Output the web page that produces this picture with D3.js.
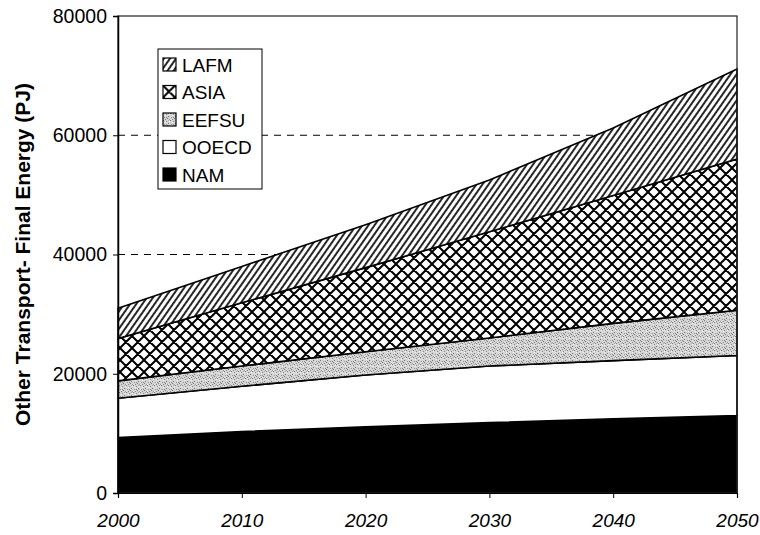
<!DOCTYPE html>
<html>
<head>
<meta charset="utf-8">
<script src="https://cdn.jsdelivr.net/npm/d3@7"></script>
<style>
  body { margin: 0; background: #fff; }
  svg { display: block; font-family: "Liberation Sans", Arial, sans-serif; }
</style>
</head>
<body>
<div class="container"></div>
<script>
const w = 760, h = 535;
const margin = { top: 16, right: 23, bottom: 42, left: 118 };

// data (PJ)
const years = [2000, 2010, 2020, 2030, 2040, 2050];
const seriesNames = ["NAM", "OOECD", "EEFSU", "ASIA", "LAFM"];
const NAM   = [9300, 10300, 11100, 11800, 12450, 13000];
const OOECD = [6600, 7600, 8700, 9500, 9750, 10050];
const EEFSU = [2900, 3400, 3900, 4700, 6250, 7600];
const ASIA  = [7100, 10600, 14100, 17800, 21450, 25350];
const LAFM  = [5100, 6100, 7200, 8700, 11300, 15100];
const yTicks = [0, 20000, 40000, 60000, 80000];
const xTicks = [2000, 2010, 2020, 2030, 2040, 2050];
const legendOrder = ["LAFM", "ASIA", "EEFSU", "OOECD", "NAM"];

const values = { NAM, OOECD, EEFSU, ASIA, LAFM };
const rows = years.map((yr, i) => {
  const r = { year: yr };
  seriesNames.forEach(s => r[s] = values[s][i]);
  return r;
});

const x = d3.scaleLinear().domain([2000, 2050]).range([margin.left, w - margin.right]);
const y = d3.scaleLinear().domain([0, 80000]).range([h - margin.bottom, margin.top]);

const svg = d3.select(".container").append("svg")
  .attr("width", w).attr("height", h)
  .attr("viewBox", [0, 0, w, h]);

const defs = svg.append("defs");

// LAFM: upward diagonal hatch
const pL = defs.append("pattern").attr("id", "pLAFM")
  .attr("patternUnits", "userSpaceOnUse").attr("width", 5).attr("height", 10)
  .attr("patternTransform", "rotate(35)");
pL.append("rect").attr("width", 5).attr("height", 10).attr("fill", "#fff");
pL.append("line").attr("x1", 1).attr("x2", 1).attr("y1", 0).attr("y2", 10)
  .attr("stroke", "#000").attr("stroke-width", 1.7);

// ASIA: diagonal crosshatch
const pA = defs.append("pattern").attr("id", "pASIA")
  .attr("patternUnits", "userSpaceOnUse").attr("width", 12).attr("height", 12);
pA.append("rect").attr("width", 12).attr("height", 12).attr("fill", "#fff");
pA.append("path").attr("d", "M0,0L12,12M12,0L0,12M-1,11L1,13M11,-1L13,1M-1,1L1,-1M11,13L13,11")
  .attr("stroke", "#000").attr("stroke-width", 2);

// EEFSU: grey stipple (scattered dots)
const pE = defs.append("pattern").attr("id", "pEEFSU")
  .attr("patternUnits", "userSpaceOnUse").attr("width", 7).attr("height", 7);
pE.append("rect").attr("width", 7).attr("height", 7).attr("fill", "#d4d4d4");
const dots = [[0,0,"#777"],[3,1,"#888"],[5,3,"#777"],[1,4,"#999"],[4,5,"#777"],[6,6,"#999"],
              [2,2,"#f2f2f2"],[6,1,"#f2f2f2"],[0,6,"#eee"],[3,4,"#888"],[5,0,"#aaa"],[2,6,"#888"]];
pE.selectAll("rect.d").data(dots).join("rect").attr("class", "d")
  .attr("x", d => d[0]).attr("y", d => d[1]).attr("width", 1).attr("height", 1)
  .attr("fill", d => d[2]);

const fills = {
  NAM: "#000",
  OOECD: "#fff",
  EEFSU: "url(#pEEFSU)",
  ASIA: "url(#pASIA)",
  LAFM: "url(#pLAFM)"
};

// dashed gridlines (behind areas)
svg.append("g")
  .selectAll("line")
  .data(yTicks.filter(t => t > 0 && t < 80000))
  .join("line")
  .attr("x1", x(2000)).attr("x2", x(2050))
  .attr("y1", d => y(d)).attr("y2", d => y(d))
  .attr("stroke", "#000").attr("stroke-width", 1)
  .attr("stroke-dasharray", "7,6");

const stack = d3.stack().keys(seriesNames);
const stacked = stack(rows);

const area = d3.area()
  .x(d => x(d.data.year))
  .y0(d => y(d[0]))
  .y1(d => y(d[1]));

svg.append("g")
  .selectAll("path")
  .data(stacked)
  .join("path")
  .attr("fill", d => fills[d.key])
  .attr("stroke", "#000")
  .attr("stroke-width", 1.6)
  .attr("d", area);

// plot frame (top, right)
svg.append("rect")
  .attr("x", x(2000)).attr("y", y(80000))
  .attr("width", x(2050) - x(2000)).attr("height", y(0) - y(80000))
  .attr("fill", "none").attr("stroke", "#222").attr("stroke-width", 1.2);

// y axis
const yAxis = svg.append("g")
  .attr("transform", `translate(${x(2000)},0)`)
  .call(d3.axisLeft(y).tickValues(yTicks).tickFormat(d3.format("d")).tickSize(5).tickPadding(6));
yAxis.select(".domain").attr("stroke", "#000").attr("stroke-width", 1.5);
yAxis.selectAll("text").attr("font-size", 19.5).attr("fill", "#000")
  .attr("font-family", "Liberation Sans, Arial, sans-serif");

// x axis
const xAxis = svg.append("g")
  .attr("transform", `translate(0,${y(0)})`)
  .call(d3.axisBottom(x).tickValues(xTicks).tickFormat(d3.format("d")).tickSize(5).tickPadding(16));
xAxis.select(".domain").attr("stroke", "#000").attr("stroke-width", 1.2);
xAxis.selectAll("text").attr("font-size", 19).attr("font-style", "italic").attr("fill", "#000")
  .attr("font-family", "Liberation Sans, Arial, sans-serif");

// y axis title
svg.append("text")
  .attr("transform", `translate(30,${(y(0) + y(80000)) / 2}) rotate(-90)`)
  .attr("text-anchor", "middle")
  .attr("font-size", 21)
  .attr("font-weight", "bold")
  .text("Other Transport- Final Energy (PJ)");

// legend
const lg = svg.append("g").attr("transform", "translate(158,49)");
lg.append("rect").attr("width", 104).attr("height", 140)
  .attr("fill", "#fff").attr("stroke", "#000").attr("stroke-width", 1);
const item = lg.selectAll("g.item")
  .data(legendOrder)
  .join("g").attr("class", "item")
  .attr("transform", (d, i) => `translate(5,${9 + i * 27.5})`);
item.append("rect").attr("width", 13).attr("height", 13)
  .attr("fill", d => fills[d]).attr("stroke", "#000").attr("stroke-width", 1.2);
item.append("text").attr("x", 19).attr("y", 13.5)
  .attr("font-size", 19).text(d => d);
</script>
</body>
</html>
